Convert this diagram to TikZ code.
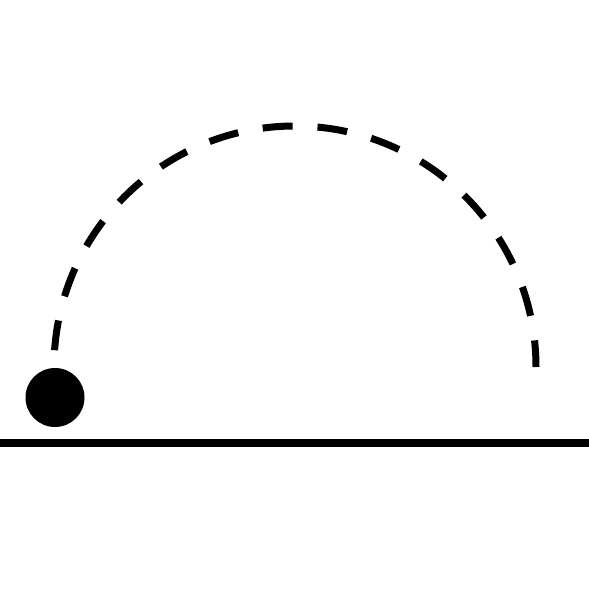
\documentclass[tikz,border=0pt]{standalone}
\begin{document}
\begin{tikzpicture}[x=1pt,y=-1pt,
  groundline/.style={line width=7.5pt},
  path arc/.style={line width=7pt, dash pattern=on 30pt off 24.9pt},
  ballshape/.style={circle, fill=black, inner sep=0pt, minimum size=59pt}]
\useasboundingbox (0,0) rectangle (589,589);
\coordinate (gl) at (0,443);
\coordinate (gr) at (589,443);
\draw[groundline] (gl) -- (gr);
\node[ballshape] (ball) at (55,397.5) {};
\coordinate (arcstart) at ({295+241*cos(184)},{367+241*sin(184)});
\draw[path arc] (arcstart) arc[start angle=184, end angle=360, radius=241];
\end{tikzpicture}
\end{document}
